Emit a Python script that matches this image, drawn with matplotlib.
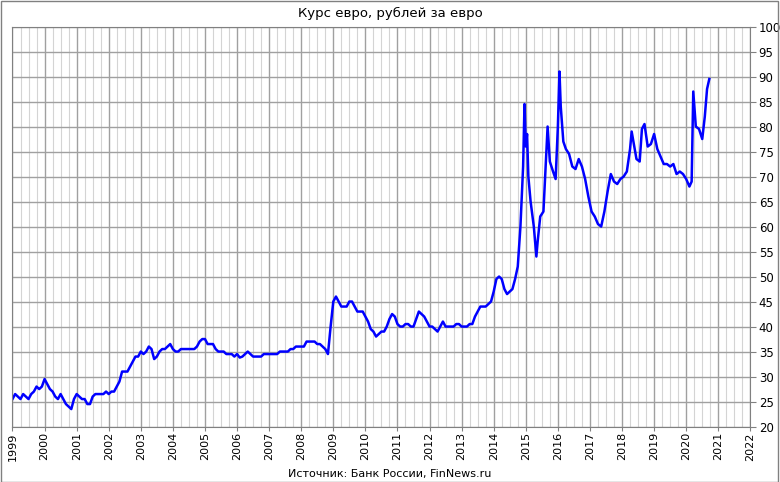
import numpy as np
import matplotlib.pyplot as plt

# monthly average-ish EUR/RUB readings, Jan 1999 .. Dec 2014
rates_1999_2014 = [
    25.5, 26.5, 26.0, 25.5, 26.5, 26.0, 25.5, 26.5, 27.0, 28.0, 27.5, 28.0,
    29.5, 28.5, 27.5, 27.0, 26.0, 25.5, 26.5, 25.5, 24.5, 24.0, 23.5, 25.5,
    26.5, 26.0, 25.5, 25.5, 24.5, 24.5, 26.0, 26.5, 26.5, 26.5, 26.5, 27.0,
    26.5, 27.0, 27.0, 28.0, 29.0, 31.0, 31.0, 31.0, 32.0, 33.0, 34.0, 34.0,
    35.0, 34.5, 35.0, 36.0, 35.5, 33.5, 34.0, 35.0, 35.5, 35.5, 36.0, 36.5,
    35.5, 35.0, 35.0, 35.5, 35.5, 35.5, 35.5, 35.5, 35.5, 36.0, 37.0, 37.5,
    37.5, 36.5, 36.5, 36.5, 35.5, 35.0, 35.0, 35.0, 34.5, 34.5, 34.5, 34.0,
    34.5, 33.8, 34.0, 34.5, 35.0, 34.5, 34.0, 34.0, 34.0, 34.0, 34.5, 34.5,
    34.5, 34.5, 34.5, 34.5, 35.0, 35.0, 35.0, 35.0, 35.5, 35.5, 36.0, 36.0,
    36.0, 36.0, 37.0, 37.0, 37.0, 37.0, 36.5, 36.5, 36.0, 35.5, 34.5, 40.0,
    45.0, 46.0, 45.0, 44.0, 44.0, 44.0, 45.0, 45.0, 44.0, 43.0, 43.0, 43.0,
    42.0, 41.0, 39.5, 39.0, 38.0, 38.5, 39.0, 39.0, 40.0, 41.5, 42.5, 42.0,
    40.5, 40.0, 40.0, 40.5, 40.5, 40.0, 40.0, 41.5, 43.0, 42.5, 42.0, 41.0,
    40.0, 40.0, 39.5, 39.0, 40.0, 41.0, 40.0, 40.0, 40.0, 40.0, 40.5, 40.5,
    40.0, 40.0, 40.0, 40.5, 40.5, 42.0, 43.0, 44.0, 44.0, 44.0, 44.5, 45.0,
    47.0, 49.5, 50.0, 49.5, 47.5, 46.5, 47.0, 47.5, 49.5, 52.0, 60.0, 72.0,
]
years_1999_2014 = 1999 + np.arange(len(rates_1999_2014)) / 12

# volatile period, finer readings
years_2015_2020 = [
    2014.96, 2015.0, 2015.04, 2015.08, 2015.15, 2015.25, 2015.33, 2015.37, 2015.45,
    2015.55, 2015.62, 2015.68, 2015.75, 2015.85, 2015.93, 2016.0, 2016.05, 2016.09,
    2016.17, 2016.25, 2016.35, 2016.45, 2016.55, 2016.65, 2016.75, 2016.85, 2016.95,
    2017.05, 2017.15, 2017.25, 2017.35, 2017.45, 2017.55, 2017.65, 2017.75, 2017.85,
    2017.95, 2018.05, 2018.15, 2018.25, 2018.3, 2018.45, 2018.55, 2018.62, 2018.7,
    2018.8, 2018.9, 2019.0, 2019.1, 2019.2, 2019.3, 2019.4, 2019.5, 2019.6, 2019.7,
    2019.8, 2019.9, 2020.0, 2020.1, 2020.17, 2020.22, 2020.3, 2020.4, 2020.5,
    2020.58, 2020.65, 2020.72,
]
rates_2015_2020 = [
    84.5, 76.0, 78.5, 70.0, 65.0, 60.0, 54.0, 57.0, 62.0,
    63.0, 72.0, 80.0, 73.0, 71.0, 69.5, 80.0, 91.0, 84.0,
    77.0, 75.5, 74.5, 72.0, 71.5, 73.5, 72.0, 69.5, 66.0,
    63.0, 62.0, 60.5, 60.0, 63.0, 67.0, 70.5, 69.0, 68.5,
    69.5, 70.0, 71.0, 75.5, 79.0, 73.5, 73.0, 79.5, 80.5,
    76.0, 76.5, 78.5, 75.5, 74.0, 72.5, 72.5, 72.0, 72.5, 70.5,
    71.0, 70.5, 69.5, 68.0, 69.0, 87.0, 80.0, 79.5, 77.5,
    82.0, 87.5, 89.5,
]

years = np.concatenate([years_1999_2014, years_2015_2020])
rates = np.concatenate([rates_1999_2014, rates_2015_2020])

fig = plt.figure(figsize=(7.8, 4.82), dpi=100)
ax = fig.add_axes([0.016, 0.115, 0.946, 0.83])
ax.plot(years, rates, color="#0000ff", lw=1.8)

ax.set_xlim(1999, 2022)
ax.set_ylim(20, 100)
ax.set_xticks(np.arange(1999, 2023))
ax.set_xticks(np.arange(1999, 2022, 0.25), minor=True)
ax.set_xticklabels([str(y) for y in range(1999, 2023)], rotation=90, fontsize=8)
ax.set_yticks(np.arange(20, 101, 5))
ax.yaxis.tick_right()
ax.tick_params(axis="y", labelsize=8.5, length=4, pad=2, color="#808080")
ax.tick_params(axis="x", which="major", length=3, pad=1, color="#808080")
ax.tick_params(axis="x", which="minor", length=0)
ax.grid(True, which="major", color="#a0a0a0", lw=1.0)
ax.grid(True, which="minor", axis="x", color="#d4d4d4", lw=0.8)
ax.set_axisbelow(True)
for s in ax.spines.values():
    s.set_color("#808080")

fig.text(0.5, 0.965, "Курс евро, рублей за евро", ha="center", fontsize=9.5)
fig.text(0.5, 0.01, "Источник: Банк России, FinNews.ru", ha="center", fontsize=8)
fig.patches.append(plt.Rectangle((0.001, 0.001), 0.997, 0.997, transform=fig.transFigure,
                                 fill=False, ec="#808080", lw=1))
fig.savefig("out.png")
